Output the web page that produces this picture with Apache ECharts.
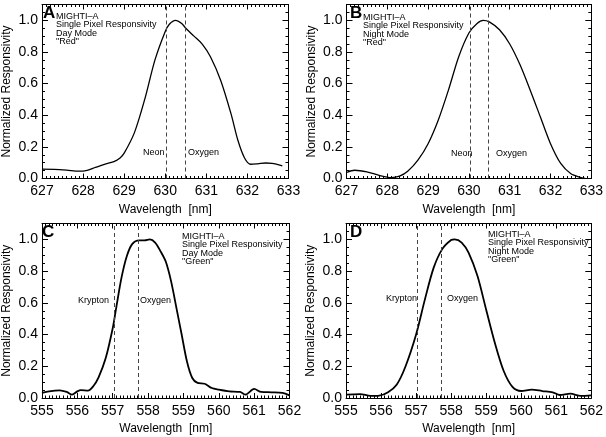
<!DOCTYPE html>
<html><head><meta charset="utf-8">
<script src="https://cdn.jsdelivr.net/npm/echarts@6/dist/echarts.min.js"></script>
<style>html,body{margin:0;padding:0;background:#fff}#c{width:606px;height:437px}</style>
</head><body><div id="c"></div>
<script>
// Panel A: Day mode, red
const redDayWl   = [627.0,627.3,627.6,627.9,628.1,628.3,628.5,628.75,628.9,629.0,629.25,629.5,629.75,630.0,630.1,630.25,630.4,630.5,630.7,630.9,631.1,631.35,631.6,631.77,631.93,632.08,632.25,632.45,632.6,632.85];
const redDayResp = [0.059,0.058,0.053,0.046,0.052,0.070,0.088,0.107,0.130,0.160,0.290,0.500,0.750,0.930,0.975,1.000,0.980,0.950,0.900,0.850,0.770,0.620,0.410,0.240,0.130,0.090,0.093,0.098,0.095,0.080];
// Panel B: Night mode, red
const redNightWl   = [627.0,627.2,627.5,627.8,628.1,628.3,628.5,628.75,629.0,629.25,629.5,629.75,630.0,630.2,630.35,630.5,630.75,631.0,631.25,631.5,631.75,632.0,632.25,632.5,632.75,632.85];
const redNightResp = [0.038,0.052,0.042,0.020,0.006,0.015,0.046,0.116,0.220,0.370,0.560,0.770,0.920,0.980,1.000,0.990,0.940,0.850,0.720,0.560,0.390,0.220,0.095,0.030,0.006,0.000];
// Panel C: Day mode, green
const greenDayWl   = [555.0,555.2,555.5,555.7,555.85,556.0,556.1,556.3,556.45,556.6,556.8,557.0,557.1,557.25,557.4,557.55,557.75,557.9,558.05,558.2,558.35,558.5,558.65,558.8,558.95,559.1,559.25,559.4,559.6,559.8,560.0,560.3,560.6,560.75,561.0,561.2,561.5,561.8,562.0];
const greenDayResp = [0.032,0.042,0.048,0.038,0.021,0.042,0.050,0.046,0.074,0.130,0.250,0.440,0.570,0.760,0.895,0.970,0.994,0.994,1.000,0.980,0.926,0.860,0.737,0.570,0.400,0.230,0.126,0.095,0.090,0.063,0.053,0.042,0.038,0.021,0.057,0.038,0.036,0.032,0.017];
// Panel D: Night mode, green
const greenNightWl   = [555.0,555.4,555.7,555.95,556.2,556.45,556.7,557.0,557.25,557.5,557.75,558.0,558.1,558.3,558.5,558.75,559.0,559.25,559.5,559.75,560.0,560.3,560.6,560.9,561.1,561.4,561.7,562.0];
const greenNightResp = [0.021,0.025,0.013,0.015,0.036,0.085,0.200,0.400,0.620,0.820,0.940,0.996,1.000,0.980,0.915,0.770,0.556,0.345,0.170,0.070,0.044,0.053,0.044,0.036,0.019,0.027,0.013,0.017];

const redRefLines   = [630.03, 630.48];
const greenRefLines = [557.03, 557.73];
const redRange   = [627, 633];
const greenRange = [555, 562];
const yRange = [0, 1.1];

const panelLetters = ['A','B','C','D'];
const panelNotes = [
  ['MIGHTI\u2013A','Single Pixel Responsivity','Day Mode','"Red"'],
  ['MIGHTI\u2013A','Single Pixel Responsivity','Night Mode','"Red"'],
  ['MIGHTI\u2013A','Single Pixel Responsivity','Day Mode','"Green"'],
  ['MIGHTI\u2013A','Single Pixel Responsivity','Night Mode','"Green"']
];
const refNames = [['Neon','Oxygen'],['Neon','Oxygen'],['Krypton','Oxygen'],['Krypton','Oxygen']];

const FONT = 'Liberation Sans';
const grids = [
  {left:40,    top:4.5, width:248.5, height:174},
  {left:346.5, top:4.5, width:247,   height:174},
  {left:39.5,  top:223.5, width:250, height:174.5},
  {left:346,   top:223.5, width:247.5, height:174.5}
];
const panels = [
  {wl: redDayWl, r: redDayResp, range: redRange, lines: redRefLines, lw: 1.3},
  {wl: redNightWl, r: redNightResp, range: redRange, lines: redRefLines, lw: 1.3},
  {wl: greenDayWl, r: greenDayResp, range: greenRange, lines: greenRefLines, lw: 1.8},
  {wl: greenNightWl, r: greenNightResp, range: greenRange, lines: greenRefLines, lw: 1.8}
];

const xAxes = [], yAxes = [], series = [];
const axisLine = {show:true, onZero:false, lineStyle:{color:'#000', width:1}};
panels.forEach((p, i) => {
  const xCommon = {type:'value', gridIndex:i, min:p.range[0], max:p.range[1], interval:1,
    axisLine, splitLine:{show:false},
    axisTick:{show:true, inside:true, length:5, lineStyle:{color:'#000'}},
    minorTick:{show:true, splitNumber:10, length:2.5, lineStyle:{color:'#000'}}};
  xAxes.push(Object.assign({}, xCommon, {position:'bottom',
    axisLabel:{show:true, color:'#000', fontSize:14, fontFamily:FONT, margin:6},
    name:'Wavelength  [nm]', nameLocation:'middle', nameGap:25,
    nameTextStyle:{color:'#000', fontSize:12, fontFamily:FONT}}));
  xAxes.push(Object.assign({}, xCommon, {position:'top', axisLabel:{show:false}}));
  const yCommon = {type:'value', gridIndex:i, min:yRange[0], max:yRange[1], interval:0.2,
    axisLine, splitLine:{show:false},
    axisTick:{show:true, inside:true, length:6, lineStyle:{color:'#000'}},
    minorTick:{show:true, splitNumber:4, length:3, lineStyle:{color:'#000'}}};
  yAxes.push(Object.assign({}, yCommon, {position:'left',
    axisLabel:{show:true, color:'#000', fontSize:14, fontFamily:FONT, margin:4, showMaxLabel:false,
      formatter: v => v.toFixed(1)},
    name:'Normalized Responsivity', nameLocation:'middle', nameGap:29,
    nameTextStyle:{color:'#000', fontSize:12, fontFamily:FONT}}));
  yAxes.push(Object.assign({}, yCommon, {position:'right', axisLabel:{show:false}}));
  series.push({type:'line', xAxisIndex:2*i, yAxisIndex:2*i, showSymbol:false, smooth:0.3,
    data: p.wl.map((w, k) => [w, p.r[k]]),
    lineStyle:{color:'#000', width:p.lw}, silent:true,
    markLine:{silent:true, symbol:'none', label:{show:false},
      lineStyle:{color:'#444', width:1, type:[4,3]},
      data: p.lines.map(v => ({xAxis:v}))}
  });
});

const graphic = [];
const letterPos = [[43,5],[350,5],[42,224],[350,224]];
const notePos = [[56,12],[363,13],[182,232],[488,230]];
const refPos = [[[143,148],[188,148]],[[451,149],[496,149]],[[78,296],[140,296]],[[386,294],[447,294]]];
panels.forEach((p, i) => {
  graphic.push({type:'text', left:letterPos[i][0], top:letterPos[i][1],
    style:{text:panelLetters[i], font:'bold 17px ' + FONT, fill:'#000'}});
  graphic.push({type:'text', left:notePos[i][0], top:notePos[i][1],
    style:{text:panelNotes[i].join('\n'), font:'9px ' + FONT, lineHeight:8.5, fill:'#000'}});
  refNames[i].forEach((nm, j) => {
    graphic.push({type:'text', left:refPos[i][j][0], top:refPos[i][j][1],
      style:{text:nm, font:'9px ' + FONT, fill:'#000'}});
  });
});

const chart = echarts.init(document.getElementById('c'), null, {renderer:'canvas'});
chart.setOption({animation:false, backgroundColor:'#fff', grid:grids, xAxis:xAxes, yAxis:yAxes, series, graphic});
</script></body></html>
